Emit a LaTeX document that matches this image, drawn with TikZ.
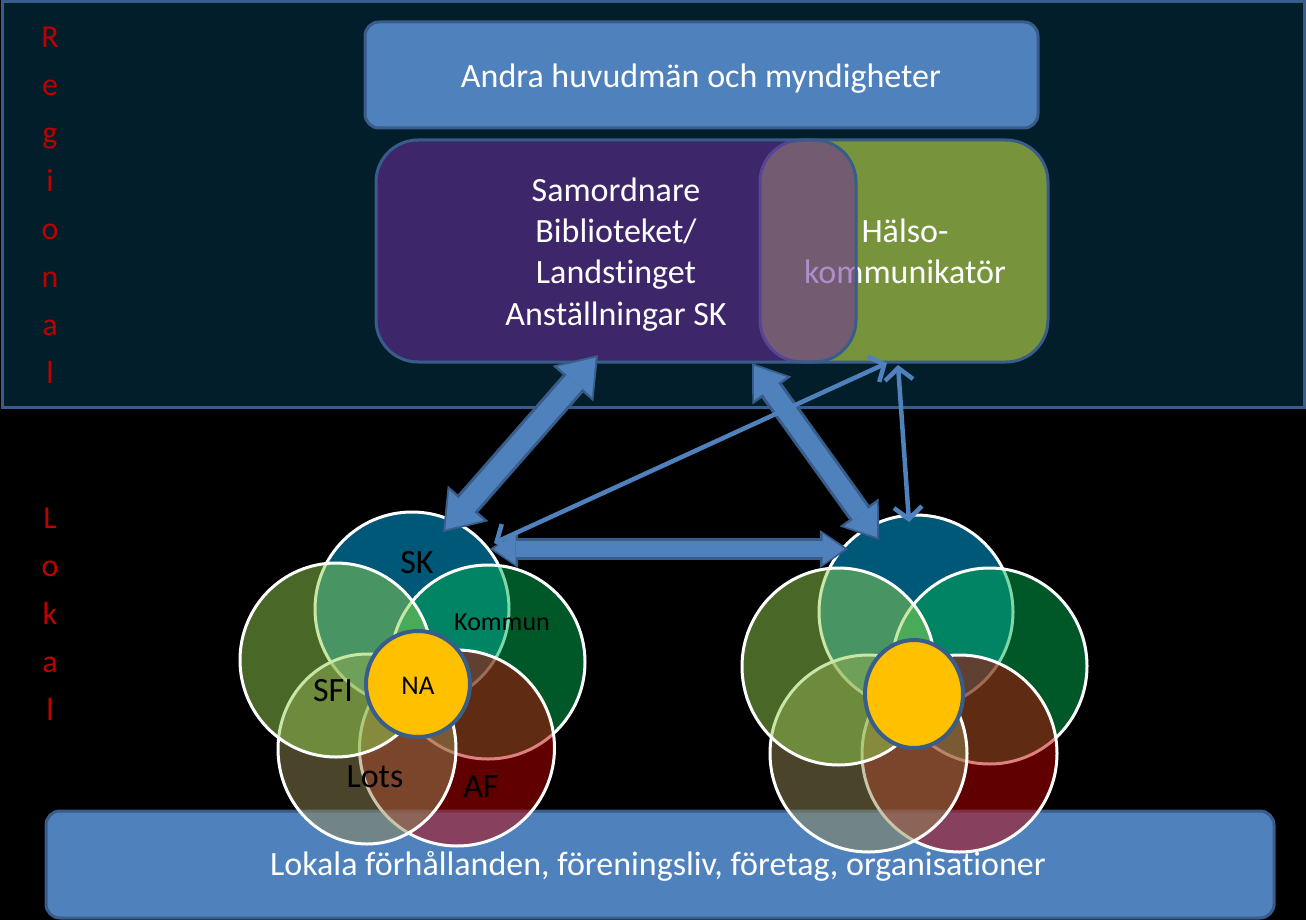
\documentclass[tikz,border=0pt]{standalone}
\usepackage{fontspec}
\setmainfont{Carlito}[Ligatures=NoCommon]
\usetikzlibrary{arrows.meta,shapes.geometric}
\definecolor{bgteal}{RGB}{1,30,42}
\definecolor{frameblue}{RGB}{56,93,138}
\definecolor{boxblue}{RGB}{79,129,189}
\definecolor{vpurple}{RGB}{112,48,160}
\definecolor{volive}{RGB}{119,147,60}
\definecolor{cSK}{RGB}{0,176,240}
\definecolor{cLG}{RGB}{146,208,80}
\definecolor{cRG}{RGB}{0,176,80}
\definecolor{cLots}{RGB}{148,138,84}
\definecolor{cAF}{RGB}{192,0,0}
\definecolor{cNA}{RGB}{255,192,0}
\definecolor{redtxt}{RGB}{192,0,0}
\begin{document}
\begin{tikzpicture}[x=1pt,y=-1pt,
  bluebox/.style={draw=frameblue, line width=3pt, fill=boxblue, rounded corners=14pt, inner sep=0pt},
  bigbox/.style={draw=frameblue, line width=3pt, rounded corners=42pt, inner sep=0pt, minimum height=222pt},
  wtext/.style={text=white, inner sep=0pt, anchor=base, font=\fontsize{34}{40}\selectfont},
  redl/.style={text=redtxt, inner sep=0pt, anchor=base, font=\fontsize{32}{38}\selectfont},
  venn/.style={ellipse, draw=white, line width=3pt, fill opacity=0.5, inner sep=0pt},
  nacirc/.style={ellipse, draw=frameblue, line width=4pt, fill=cNA, inner sep=0pt},
  vlabel/.style={text=black, inner sep=0pt, font=\fontsize{34}{38}\selectfont},
  blockout/.style={draw=frameblue},
  blockin/.style={draw=boxblue, shorten <=3.5pt, shorten >=3.5pt},
  thinarrow/.style={draw=boxblue, line width=4.5pt, {Straight Barb[length=12pt,width=28pt]}-{Straight Barb[length=12pt,width=28pt]}}
]
\useasboundingbox (0,0) rectangle (1306,920);
\fill[black] (0,0) rectangle (1306,920);
% regional frame
\draw[fill=bgteal, draw=frameblue, line width=3pt] (2,2) rectangle (1304,407);
\foreach \c [count=\i from 0] in {R,e,g,i,o,n,a,l}
  \node[redl] (reg\i) at (50,{48+47.9*\i}) {\c};
\foreach \c [count=\i from 0] in {L,o,k,a,l}
  \node[redl] (lok\i) at (50,{528+48*\i}) {\c};
% top box
\node[bluebox, minimum width=673pt, minimum height=106pt] (top) at (701.5,75) {};
\node[wtext] (toptxt) at (701,88) {Andra huvudmän och myndigheter};
% green box and text
\node[bigbox, fill=volive, minimum width=288pt] (halso) at (904,251) {};
\node[wtext] (h1) at (905,243) {Hälso-};
\node[wtext] (h2) at (905,283) {kommunikatör};
% purple box and text
\node[bigbox, fill=vpurple, fill opacity=0.55, draw opacity=1, minimum width=480pt] (samo) at (616,251) {};
\node[wtext] (s1) at (616,202) {Samordnare};
\node[wtext] (s2) at (616,242) {Biblioteket/};
\node[wtext] (s3) at (616,283) {Landstinget};
\node[wtext] (s4) at (616,325) {Anställningar SK};
% bottom bar
\node[bluebox, minimum width=1228pt, minimum height=107pt] (lokala) at (660,864.5) {};
\node[wtext] (lokalatxt) at (658,875) {Lokala förhållanden, föreningsliv, företag, organisationer};
% left cluster
\node[venn, fill=cSK, minimum width=194pt, minimum height=194pt] (sk1) at (412,609) {};
\node[venn, fill=cRG, minimum width=194pt, minimum height=194pt] (rg1) at (488,662) {};
\node[venn, fill=cAF, minimum width=195pt, minimum height=196pt] (af1) at (457,748) {};
\node[venn, fill=cLots, minimum width=178pt, minimum height=190pt] (lots1) at (367,749) {};
\node[venn, fill=cLG, minimum width=192pt, minimum height=194pt] (lg1) at (336,660) {};
\node[nacirc, minimum width=104pt, minimum height=106pt] (na1) at (418,684) {};
\node[vlabel] (lsk) at (417,563) {SK};
\node[vlabel, font=\fontsize{26}{30}\selectfont] (lkom) at (502,622) {Kommun};
\node[vlabel] (lsfi) at (333,691) {SFI};
\node[vlabel, font=\fontsize{27}{30}\selectfont] (lna) at (418,686) {NA};
\node[vlabel] (llots) at (375,777) {Lots};
\node[vlabel] (laf) at (481,787) {AF};
% right cluster
\node[venn, fill=cSK, minimum width=194pt, minimum height=194pt] (sk2) at (916,612) {};
\node[venn, fill=cRG, minimum width=195pt, minimum height=196pt] (rg2) at (989.5,666) {};
\node[venn, fill=cAF, minimum width=195pt, minimum height=197pt] (af2) at (959.5,753.5) {};
\node[venn, fill=cLots, minimum width=197pt, minimum height=197pt] (lots2) at (868.5,753.5) {};
\node[venn, fill=cLG, minimum width=193pt, minimum height=197pt] (lg2) at (838.5,666.5) {};
\node[nacirc, minimum width=98pt, minimum height=108pt] (na2) at (914,694) {};
% arrow end points
\coordinate (a1a) at (443,532);
\coordinate (a1b) at (598,355);
\coordinate (a2a) at (752,363);
\coordinate (a2b) at (879,540);
\coordinate (a3a) at (490,549);
\coordinate (a3b) at (848,549);
\coordinate (a4a) at (494,543);
\coordinate (a4b) at (887,363);
\coordinate (a5a) at (898,365);
\coordinate (a5b) at (909,522);
% thick block arrows
\draw[blockout, line width=27pt, {Triangle[length=38pt,width=54pt,line width=0pt]}-{Triangle[length=38pt,width=54pt,line width=0pt]}] (a1a) -- (a1b);
\draw[blockin, line width=21pt, {Triangle[length=32pt,width=46pt,line width=0pt]}-{Triangle[length=32pt,width=46pt,line width=0pt]}] (a1a) -- (a1b);
\draw[blockout, line width=25pt, {Triangle[length=34pt,width=48pt,line width=0pt]}-{Triangle[length=34pt,width=48pt,line width=0pt]}] (a2a) -- (a2b);
\draw[blockin, line width=19pt, {Triangle[length=28pt,width=40pt,line width=0pt]}-{Triangle[length=28pt,width=40pt,line width=0pt]}] (a2a) -- (a2b);
\draw[blockout, line width=22pt, {Triangle[length=28pt,width=38pt,line width=0pt]}-{Triangle[length=28pt,width=38pt,line width=0pt]}] (a3a) -- (a3b);
\draw[blockin, line width=16pt, {Triangle[length=22pt,width=31pt,line width=0pt]}-{Triangle[length=22pt,width=31pt,line width=0pt]}] (a3a) -- (a3b);
% thin arrows
\draw[thinarrow] (a4a) -- (a4b);
\draw[thinarrow] (a5a) -- (a5b);
\end{tikzpicture}
\end{document}
